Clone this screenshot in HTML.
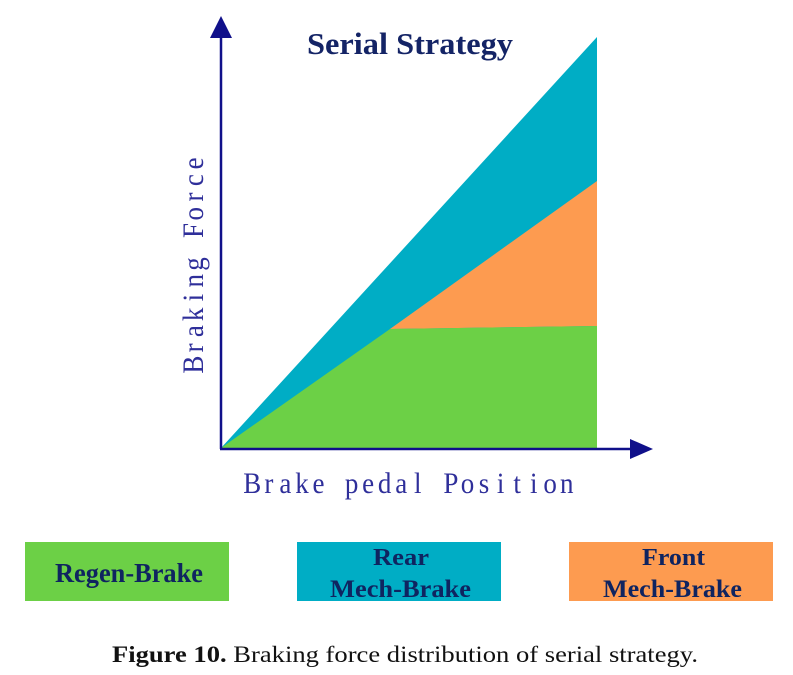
<!DOCTYPE html>
<html>
<head>
<meta charset="utf-8">
<style>
html,body{margin:0;padding:0;background:#fff;}
svg{display:block;}
</style>
</head>
<body>
<svg width="793" height="675" viewBox="0 0 793 675" xmlns="http://www.w3.org/2000/svg">
  <rect x="0" y="0" width="793" height="675" fill="#ffffff"/>
  <!-- areas -->
  <polygon points="221,448 597,37 597,448" fill="#00adc5"/>
  <polygon points="390,329 597,181 597,326" fill="#fd9b50"/>
  <polygon points="221,448 390,329 597,326 597,448" fill="#6cd046"/>
  <!-- axes -->
  <line x1="221" y1="449" x2="221" y2="36" stroke="#10108a" stroke-width="2.5"/>
  <polygon points="221,16 210,38 232,38" fill="#10108a"/>
  <line x1="220" y1="449" x2="632" y2="449" stroke="#10108a" stroke-width="2.5"/>
  <polygon points="653,449 630,439 630,459" fill="#10108a"/>
  <!-- title -->
  <text x="307" y="54" font-family="Liberation Serif, serif" font-weight="bold" font-size="31" fill="#142466" textLength="206" lengthAdjust="spacingAndGlyphs">Serial Strategy</text>
  <!-- axis labels (monospaced serif) -->
  <g transform="scale(0.9,1)">
    <text y="493" font-family="Liberation Serif, serif" font-size="30" fill="#2f2f9a" text-anchor="middle"
      x="280.3 298.7 317.1 335.5 353.9 372.3 390.7 409.0 427.4 445.8 464.2 482.6 501.0 519.4 537.8 556.2 574.6 593.0 611.3 629.7">Brake pedal Position</text>
  </g>
  <g transform="translate(203,373) rotate(-90) scale(0.9,1)">
    <text y="0" font-family="Liberation Serif, serif" font-size="30" fill="#2f2f9a" text-anchor="middle"
      x="9.3 27.9 46.6 65.2 83.8 102.5 121.1 139.7 158.4 177.0 195.6 214.3 232.9">Braking Force</text>
  </g>
  <!-- legend -->
  <rect x="25" y="542" width="204" height="59" fill="#6cd046"/>
  <text x="55" y="582" font-family="Liberation Serif, serif" font-weight="bold" font-size="27" fill="#0f2460" textLength="148" lengthAdjust="spacingAndGlyphs">Regen-Brake</text>
  <rect x="297" y="542" width="204" height="59" fill="#00adc5"/>
  <text x="373" y="565" font-family="Liberation Serif, serif" font-weight="bold" font-size="24" fill="#0f2460" textLength="56" lengthAdjust="spacingAndGlyphs">Rear</text>
  <text x="330" y="597" font-family="Liberation Serif, serif" font-weight="bold" font-size="25" fill="#0f2460" textLength="141" lengthAdjust="spacingAndGlyphs">Mech-Brake</text>
  <rect x="569" y="542" width="204" height="59" fill="#fd9b50"/>
  <text x="642" y="565" font-family="Liberation Serif, serif" font-weight="bold" font-size="24" fill="#0f2460" textLength="63" lengthAdjust="spacingAndGlyphs">Front</text>
  <text x="603" y="597" font-family="Liberation Serif, serif" font-weight="bold" font-size="25" fill="#0f2460" textLength="139" lengthAdjust="spacingAndGlyphs">Mech-Brake</text>
  <!-- caption -->
  <text x="112" y="662" font-family="Liberation Serif, serif" font-size="23" fill="#111111" textLength="586" lengthAdjust="spacingAndGlyphs"><tspan font-weight="bold">Figure 10.</tspan> Braking force distribution of serial strategy.</text>
</svg>
</body>
</html>
